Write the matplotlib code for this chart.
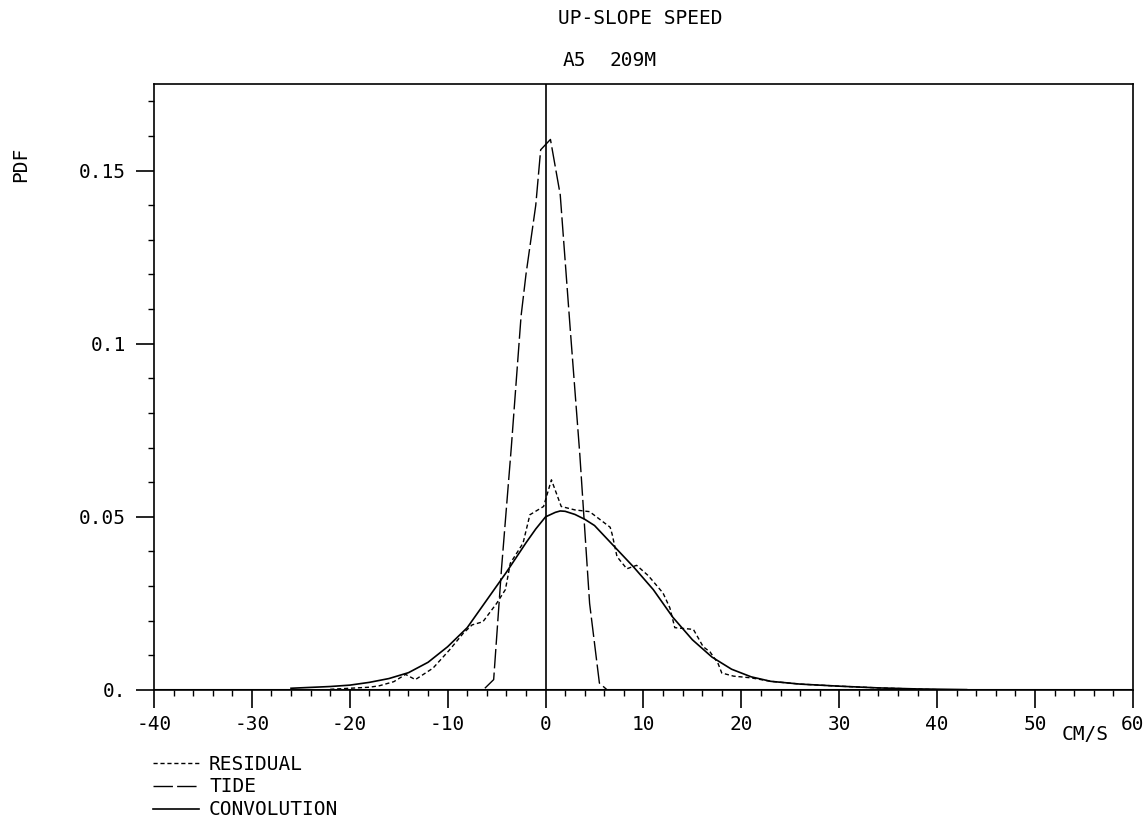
import matplotlib
matplotlib.use("Agg")
import matplotlib.pyplot as plt
from matplotlib.ticker import MultipleLocator, FixedLocator

plt.rcParams['font.family'] = ['DejaVu Sans Mono']

# tide pdf (long dashes)
tide_x = [-6.2, -5.3, -4.5, -3.5, -2.5, -2.0, -1.0, -0.5, 0.5, 1.5, 2.5, 3.5, 4.5, 5.5, 6.3]
tide_y = [0.0005, 0.003, 0.035, 0.07, 0.108, 0.12, 0.14, 0.156, 0.159, 0.143,
          0.105, 0.068, 0.025, 0.002, 0.0]

# residual pdf (short dashes)
res_x = [-22, -18, -17, -15.5, -14.3, -13.3, -11.5, -9.8, -8.4, -7.5, -6.4, -5.0,
         -4.1, -3.6, -2.3, -1.6, -0.2, 0.6, 1.6, 3.0, 4.5, 6.6, 6.8, 7.3, 8.3, 9.3,
         10.5, 12.0, 12.7, 13.2, 15.1, 16.1, 16.8, 17.6, 18.0, 19.2, 21, 23, 26,
         30, 34, 40]
res_y = [0.0002, 0.0008, 0.0012, 0.0024, 0.0045, 0.003, 0.0063, 0.0116, 0.0164,
         0.0188, 0.0197, 0.025, 0.029, 0.0366, 0.0424, 0.0506, 0.053, 0.0607,
         0.053, 0.052, 0.0515, 0.047, 0.045, 0.0385, 0.035, 0.036, 0.033, 0.028,
         0.0237, 0.018, 0.0175, 0.0125, 0.011, 0.0078, 0.0049, 0.004, 0.0035,
         0.0025, 0.0017, 0.0011, 0.0006, 0.0001]

# convolution (solid)
conv_x = [-26, -22, -20, -18, -16, -14, -12, -10, -8, -6, -4, -2, -1, 0, 1, 1.5, 2, 3,
          4, 5, 7, 9, 11, 13, 15, 17, 19, 21, 23, 26, 30, 34, 38, 43]
conv_y = [0.0005, 0.001, 0.0014, 0.0022, 0.0033, 0.005, 0.008, 0.0125, 0.018,
          0.026, 0.034, 0.0425, 0.0465, 0.050, 0.0513, 0.0517, 0.0516, 0.0507,
          0.0493, 0.0475, 0.0415, 0.0355, 0.029, 0.021, 0.0145, 0.0095, 0.006,
          0.0038, 0.0025, 0.0017, 0.0011, 0.0006, 0.0003, 0.0001]

xticks = [-40, -30, -20, -10, 0, 10, 20, 30, 40, 50, 60]
xlabels = ['-40', '-30', '-20', '-10', '0', '10', '20', '30', '40', '50', '60']
yticks = [0, 0.05, 0.1, 0.15]
ylabels = ['0.', '0.05', '0.1', '0.15']

fig = plt.figure(figsize=(11.48, 8.22), dpi=100)
ax = fig.add_axes([0.1341, 0.1606, 0.8528, 0.7372])

ax.plot(res_x, res_y, color='black', lw=1.0, dashes=(3, 2), label='RESIDUAL')
ax.plot(tide_x, tide_y, color='black', lw=1.0, dashes=(14, 3), label='TIDE')
ax.plot(conv_x, conv_y, color='black', lw=1.2, label='CONVOLUTION')
ax.axvline(0, color='black', lw=1.2)
ax.axhline(0, color='black', lw=1.5)

ax.set_xlim(-40, 60)
ax.set_ylim(0, 0.175)
ax.xaxis.set_major_locator(FixedLocator(xticks))
ax.set_xticklabels(xlabels)
ax.xaxis.set_minor_locator(MultipleLocator(2))
ax.yaxis.set_major_locator(FixedLocator(yticks))
ax.set_yticklabels(ylabels)
ax.yaxis.set_minor_locator(MultipleLocator(0.01))

ax.tick_params(axis='both', which='major', direction='out', length=13, width=1.2,
               labelsize=14, pad=5)
ax.tick_params(axis='y', which='major', pad=7)
ax.tick_params(axis='both', which='minor', direction='out', length=4, width=1.0)
for s in ax.spines.values():
    s.set_linewidth(1.2)

fig.text(0.558, 0.978, 'UP-SLOPE SPEED', ha='center', va='center', fontsize=14)
fig.text(0.5, 0.926, 'A5', ha='center', va='center', fontsize=14)
fig.text(0.551, 0.926, '209M', ha='center', va='center', fontsize=14)
fig.text(0.018, 0.8, 'PDF', ha='center', va='center', rotation=90, fontsize=14)
fig.text(0.945, 0.107, 'CM/S', ha='center', va='center', fontsize=14)

ax.legend(loc='upper left', bbox_to_anchor=(0.133, 0.082), bbox_transform=fig.transFigure,
          frameon=False, fontsize=14, handlelength=2.4, handletextpad=0.5,
          labelspacing=0.2, borderaxespad=0, borderpad=0)

fig.savefig('out.png', dpi=100)
